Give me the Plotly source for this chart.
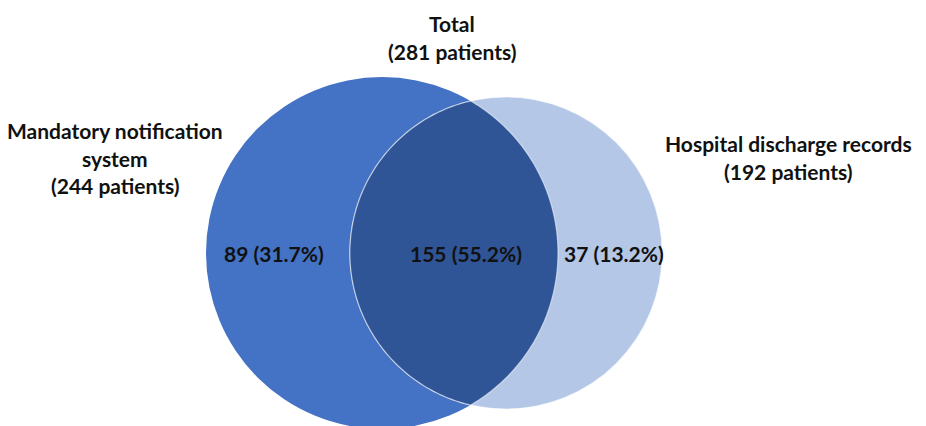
import numpy as np
import plotly.graph_objects as go

# Patient counts per data source
set_names = ["Mandatory notification\nsystem", "Hospital discharge records"]
set_totals = [244, 192]
both_sources = 155

only_first = set_totals[0] - both_sources
only_second = set_totals[1] - both_sources
grand_total = only_first + only_second + both_sources

W, H = 926, 426
FONT = "Lato, 'Open Sans', 'Liberation Sans', sans-serif"
TXT = "#111111"
FS = 21

# Circle geometry in pixel space: area proportional to patient count
cy = 253
r1 = 176.0
r2 = r1 * np.sqrt(set_totals[1] / set_totals[0])
c1x = 382.0
c2x = 506.0

# Lens (overlap region) outline
d = c2x - c1x
a = (d ** 2 + r1 ** 2 - r2 ** 2) / (2 * d)
h = np.sqrt(r1 ** 2 - a ** 2)
phi1 = np.arctan2(h, a)
phi2 = np.arctan2(h, a - d)
t1 = np.linspace(-phi1, phi1, 120)
t2 = np.linspace(phi2, 2 * np.pi - phi2, 160)
lx = np.concatenate([c1x + r1 * np.cos(t1), c2x + r2 * np.cos(t2)])
ly = np.concatenate([cy + r1 * np.sin(t1), cy + r2 * np.sin(t2)])
lens_path = "M " + " L ".join(f"{x:.2f},{y:.2f}" for x, y in zip(lx, ly)) + " Z"

fig = go.Figure()

shapes = [
    dict(type="circle", xref="x", yref="y",
         x0=c1x - r1, x1=c1x + r1, y0=cy - r1, y1=cy + r1,
         fillcolor="#4472C4", line=dict(width=0), layer="below"),
    dict(type="circle", xref="x", yref="y",
         x0=c2x - r2, x1=c2x + r2, y0=cy - r2, y1=cy + r2,
         fillcolor="#B4C7E7", line=dict(color="rgba(255,255,255,0.55)", width=1.2),
         layer="below"),
    dict(type="path", xref="x", yref="y", path=lens_path,
         fillcolor="#2F5597", line=dict(color="rgba(255,255,255,0.55)", width=1.2),
         layer="below"),
]


def pct(n):
    return f"{n} ({100 * n / grand_total:.1f}%)"


def lines(x, ys, texts):
    return [dict(x=x, y=y, text=t, showarrow=False, xanchor="center", yanchor="middle",
                 font=dict(family=FONT, size=FS, color=TXT))
            for y, t in zip(ys, texts)]


ann = []
ann += lines(452, [23, 51], ["<b>Total</b>", f"<b>({grand_total} patients)</b>"])
first_lines = set_names[0].split("\n")
ann += lines(115, [130, 158, 185],
             [f"<b>{first_lines[0]}</b>", f"<b>{first_lines[1]}</b>",
              f"<b>({set_totals[0]} patients)</b>"])
ann += lines(788, [143, 171],
             [f"<b>{set_names[1]}</b>", f"<b>({set_totals[1]} patients)</b>"])
ann += lines(274, [253], [f"<b>{pct(only_first)}</b>"])
ann += lines(466, [253], [f"<b>{pct(both_sources)}</b>"])
ann += lines(614, [253], [f"<b>{pct(only_second)}</b>"])

fig.update_layout(
    width=W, height=H,
    margin=dict(l=0, r=0, t=0, b=0),
    paper_bgcolor="white", plot_bgcolor="white",
    xaxis=dict(range=[0, W], visible=False, fixedrange=True),
    yaxis=dict(range=[H, 0], visible=False, fixedrange=True),
    shapes=shapes, annotations=ann, showlegend=False,
)

fig.write_html("out.html")
